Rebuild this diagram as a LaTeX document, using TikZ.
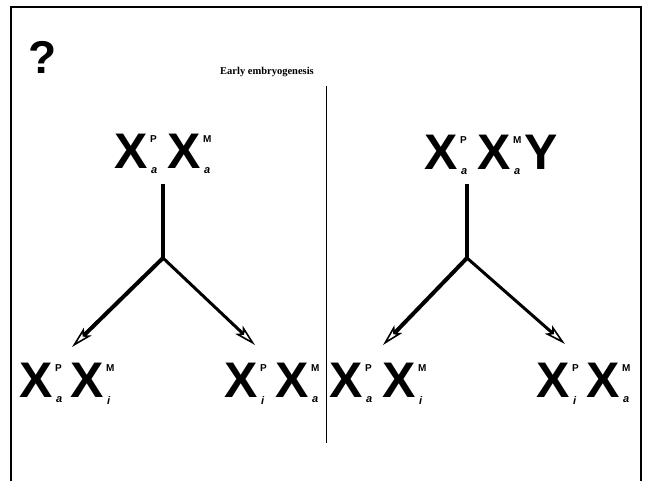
\documentclass[tikz,border=0pt]{standalone}
\usepackage{fontspec}
\setmainfont{Liberation Sans}
\newfontfamily\serifbf{Liberation Serif}
\usetikzlibrary{arrows.meta}
\begin{document}
\begin{tikzpicture}[x=1pt,y=-1pt,
  big/.style={inner sep=0pt,font=\fontsize{50}{50}\selectfont\bfseries},
  supl/.style={inner sep=0pt,anchor=north west,font=\fontsize{10}{10}\selectfont\bfseries},
  subl/.style={inner sep=0pt,anchor=north west,font=\fontsize{11}{11}\selectfont\bfseries\itshape},
  stem/.style={line width=4pt},
  arr/.style={line width=#1,-{Stealth[open,length=22pt,width=11pt,inset=5pt,line width=1.6pt]}},
  frame/.style={line width=1.4pt}]
\useasboundingbox (0,0) rectangle (646,481);
\coordinate (fbl) at (11,481);
\coordinate (ftl) at (11,7);
\coordinate (ftr) at (641,7);
\coordinate (fbr) at (641,481);
\draw[frame] (fbl) -- (ftl) -- (ftr) -- (fbr);
\node[inner sep=0pt,font=\fontsize{46}{46}\selectfont\bfseries] (q) at (43,57) {?};
\node[inner sep=0pt,font=\serifbf\fontsize{10.5}{10.5}\selectfont\bfseries] (title) at (267,72) {Early embryogenesis};
\coordinate (dtop) at (326,86);
\coordinate (dbot) at (326,443);
\draw[line width=0.9pt] (dtop) -- (dbot);
% chromosome macro
\newcommand\chrom[5]{%
  \node[big] (#1) at (#2,#3) {X};
  \node[supl] (#1p) at ([shift={(2pt,-2pt)}]#1.north east) {#4};
  \node[subl] (#1b) at ([shift={(3pt,1pt)}]#1.south east) {#5};}
% left top
\chrom{la}{131}{151}{P}{a}
\chrom{lb}{184}{151}{M}{a}
% right top
\chrom{ra}{441}{152}{P}{a}
\chrom{rb}{494}{152}{M}{a}
\node[big] (ry) at (541,152) {Y};
% bottom
\chrom{b1}{36}{380}{P}{a}
\chrom{b2}{87}{380}{M}{i}
\chrom{b3}{241}{380}{P}{i}
\chrom{b4}{292}{380}{M}{a}
\chrom{b5}{346}{380}{P}{a}
\chrom{b6}{399}{380}{M}{i}
\chrom{b7}{553}{380}{P}{i}
\chrom{b8}{603}{380}{M}{a}
% stems and arrows, left
\coordinate (ls) at (163,184);
\coordinate (lj) at (163,258);
\coordinate (lt1) at (72,347);
\coordinate (lt2) at (255,345);
\draw[stem] (ls) -- (lj);
\draw[arr=4pt] (lj) -- (lt1);
\draw[arr=3pt] (lj) -- (lt2);
% right
\coordinate (rs) at (467,184);
\coordinate (rj) at (467,258);
\coordinate (rt1) at (383,345);
\coordinate (rt2) at (565,344);
\draw[stem] (rs) -- (rj);
\draw[arr=4pt] (rj) -- (rt1);
\draw[arr=3pt] (rj) -- (rt2);
\end{tikzpicture}
\end{document}
